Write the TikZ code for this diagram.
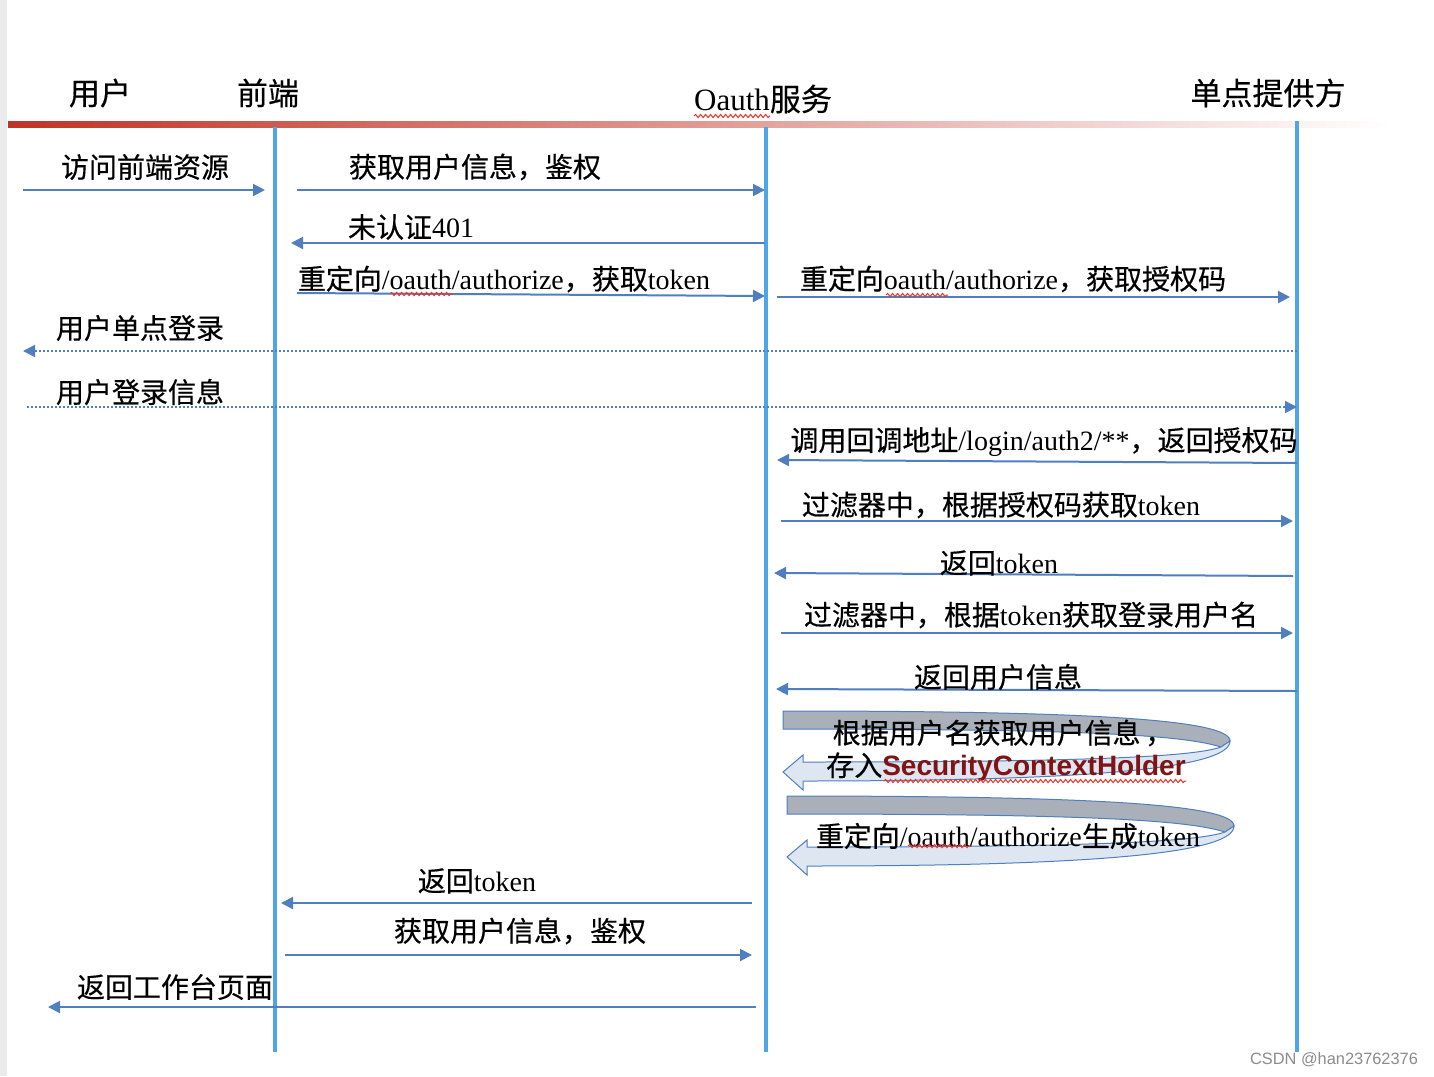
\documentclass[tikz,border=0pt]{standalone}
\usepackage{fontspec}
\setmainfont{Noto Sans CJK SC}[FakeBold=0.4]
\newfontfamily\lat{Liberation Serif}
\newfontfamily\sans{Liberation Sans}
\usetikzlibrary{arrows.meta,decorations.pathmorphing}

\definecolor{lifeblue}{RGB}{78,166,230}
\definecolor{msgblue}{RGB}{79,127,191}
\definecolor{headred}{RGB}{192,52,38}
\definecolor{holderred}{RGB}{128,20,20}
\definecolor{backgray}{RGB}{170,176,186}
\definecolor{frontblue}{RGB}{222,230,242}
\definecolor{spellred}{RGB}{232,52,40}

\begin{document}
\begin{tikzpicture}[x=0.5pt,y=-0.5pt,
    lifeline/.style={draw=lifeblue,line width=2pt},
    msg/.style={draw=msgblue,line width=1pt,-{Triangle[length=6pt,width=6pt]}},
    dotmsg/.style={msg,line width=0.8pt,dash pattern=on 0.8pt off 1.2pt},
    spell/.style={draw=spellred,line width=0.5pt,decorate,
      decoration={snake,amplitude=0.8pt,segment length=2.5pt}},
    lbl/.style={font=\fontsize{14}{16}\selectfont,inner sep=0pt},
    head/.style={font=\fontsize{15.5}{18}\selectfont,inner sep=0pt}]

  \useasboundingbox (0,0) rectangle (1434,1076);
  \fill[white] (0,0) rectangle (1434,1076);
  \fill[black!8] (0,0) rectangle (7,1076);

  % header
  \shade[left color=headred,right color=white] (8,121) rectangle (1390,127);
  \node[head] (user)  at (100,93)  {用户};
  \node[head] (front) at (268,93)  {前端};
  \node[head] (oauth) at (763,99)  {{\lat Oauth}服务};
  \node[head] (sso)   at (1268,93) {单点提供方};
  \draw[spell] (694,116) -- (770,116);

  % lifelines
  \coordinate (fe-top) at (275,127);  \coordinate (fe-bot) at (275,1052);
  \coordinate (oa-top) at (766,127);  \coordinate (oa-bot) at (766,1052);
  \coordinate (sp-top) at (1297,121); \coordinate (sp-bot) at (1297,1052);
  \draw[lifeline] (fe-top) -- (fe-bot);
  \draw[lifeline] (oa-top) -- (oa-bot);
  \draw[lifeline] (sp-top) -- (sp-bot);

  % message ends
  \coordinate (m1s)  at (23,190);   \coordinate (m1e)  at (265,190);
  \coordinate (m2s)  at (297,190);  \coordinate (m2e)  at (765,190);
  \coordinate (m3s)  at (765,243);  \coordinate (m3e)  at (291,243);
  \coordinate (m4s)  at (297,293);  \coordinate (m4e)  at (765,296);
  \coordinate (m5s)  at (777,297);  \coordinate (m5e)  at (1290,297);
  \coordinate (m6s)  at (1297,351); \coordinate (m6e)  at (23,351);
  \coordinate (m7s)  at (27,407);   \coordinate (m7e)  at (1297,407);
  \coordinate (m8s)  at (1297,463); \coordinate (m8e)  at (777,460);
  \coordinate (m9s)  at (781,521);  \coordinate (m9e)  at (1293,521);
  \coordinate (m10s) at (1293,576); \coordinate (m10e) at (774,573);
  \coordinate (m11s) at (781,633);  \coordinate (m11e) at (1293,633);
  \coordinate (m12s) at (1297,691); \coordinate (m12e) at (776,689);
  \coordinate (m15s) at (752,903);  \coordinate (m15e) at (281,903);
  \coordinate (m16s) at (285,955);  \coordinate (m16e) at (752,955);
  \coordinate (m17s) at (756,1007); \coordinate (m17e) at (48,1007);

  \begin{scope}[every edge/.style={msg}]
    \path (m1s)  edge (m1e);
    \path (m2s)  edge (m2e);
    \path (m3s)  edge (m3e);
    \path (m4s)  edge (m4e);
    \path (m5s)  edge (m5e);
    \path (m8s)  edge (m8e);
    \path (m9s)  edge (m9e);
    \path (m10s) edge (m10e);
    \path (m11s) edge (m11e);
    \path (m12s) edge (m12e);
    \path (m15s) edge (m15e);
    \path (m16s) edge (m16e);
    \path (m17s) edge (m17e);
  \end{scope}
  \begin{scope}[every edge/.style={dotmsg}]
    \path (m6s) edge (m6e);
    \path (m7s) edge (m7e);
  \end{scope}

  % u-turn ribbons
  \foreach \ox/\oy in {783/711,787/796} {
    \begin{scope}[shift={(\ox,\oy)},draw=msgblue,line width=0.5pt]
      \filldraw[fill=backgray] (0,0) .. controls (300,0) and (447,8) .. (447,30)
        -- (438,36) .. controls (400,24) and (300,18) .. (0,18) -- cycle;
      \filldraw[fill=frontblue] (447,30) .. controls (447,55) and (330,70) .. (20,70)
        -- (20,79) -- (0,61) -- (20,44) -- (20,51)
        .. controls (300,51) and (410,46) .. (438,36) -- cycle;
    \end{scope}
  }

  % labels
  \node[lbl] (t1)  at (145,167)  {访问前端资源};
  \node[lbl] (t2)  at (475,167)  {获取用户信息，鉴权};
  \node[lbl] (t3)  at (411,227)  {未认证{\lat 401}};
  \node[lbl] (t4)  at (504,279)  {重定向{\lat /oauth/authorize}，获取{\lat token}};
  \node[lbl] (t5)  at (1013,279) {重定向{\lat oauth/authorize}，获取授权码};
  \node[lbl] (t6)  at (140,328)  {用户单点登录};
  \node[lbl] (t7)  at (140,392)  {用户登录信息};
  \node[lbl] (t8)  at (1044,442) {调用回调地址{\lat /login/auth2/**}，返回授权码};
  \node[lbl] (t9)  at (1001,505) {过滤器中，根据授权码获取{\lat token}};
  \node[lbl] (t10) at (999,563)  {返回{\lat token}};
  \node[lbl] (t11) at (1031,615) {过滤器中，根据{\lat token}获取登录用户名};
  \node[lbl] (t12) at (998,677)  {返回用户信息};
  \node[lbl] (t13) at (1003,733) {根据用户名获取用户信息\,，};
  \node[lbl] (t14) at (1006,767) {存入{\sans\bfseries\color{holderred}SecurityContextHolder}};
  \node[lbl] (t15) at (1008,836) {重定向{\lat /oauth/authorize}生成{\lat token}};
  \node[lbl] (t16) at (477,881)  {返回{\lat token}};
  \node[lbl] (t17) at (520,931)  {获取用户信息，鉴权};
  \node[lbl] (t18) at (175,987)  {返回工作台页面};

  % spell marks
  \draw[spell] (390,294) -- (453,294);
  \draw[spell] (886,295) -- (948,295);
  \draw[spell] (884,781) -- (1186,781);
  \draw[spell] (908,846) -- (971,846);

  \node[font=\sans\fontsize{8.2}{10}\selectfont,text=black!45,inner sep=0pt]
    (mark) at (1334,1060) {CSDN @han23762376};
\end{tikzpicture}
\end{document}
